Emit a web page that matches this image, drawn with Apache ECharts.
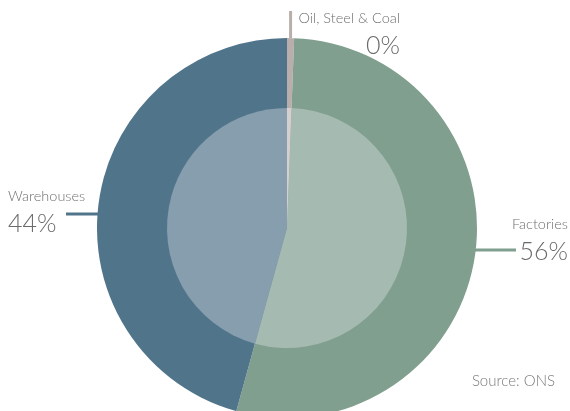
<!DOCTYPE html>
<html>
<head>
<meta charset="utf-8">
<script src="https://cdn.jsdelivr.net/npm/echarts@6/dist/echarts.min.js"></script>
<style>
  html, body { margin: 0; padding: 0; background: #ffffff; }
  #chart { width: 570px; height: 411px; }
</style>
</head>
<body>
<div id="chart"></div>
<script>
// ---- data ----
var categories = ['Oil, Steel & Coal', 'Factories', 'Warehouses'];
var shareValues = [0.6, 53.7, 45.7];          // slice sizes
var shareLabels = ['0%', '56%', '44%'];        // percentages as printed on the chart
var outerColors = ['#b9aeab', '#809f8f', '#50748a'];
var innerColors = ['#d6cfcd', '#a5bab1', '#869eae'];
var sourceText = 'Source: ONS';

var FONT = 'Lato, "Open Sans", sans-serif';
var chart = echarts.init(document.getElementById('chart'), null, { renderer: 'canvas' });

var labelAlign = ['right', 'right', 'left'];

function outerData() {
  return categories.map(function (c, i) {
    return {
      name: c,
      value: shareValues[i],
      itemStyle: { color: outerColors[i] },
      labelLine: { lineStyle: { color: outerColors[i], width: 3 } },
      label: {
        align: labelAlign[i],
        rich: {
          n: { fontSize: 14.5, color: '#6f6f6f', fontFamily: FONT, fontWeight: 300, lineHeight: 20, align: labelAlign[i] },
          p: { fontSize: 25, color: '#6a6a6a', fontFamily: FONT, fontWeight: 300, lineHeight: 36, align: labelAlign[i] }
        }
      }
    };
  });
}
function innerData() {
  return categories.map(function (c, i) {
    return { name: c, value: shareValues[i], itemStyle: { color: innerColors[i] } };
  });
}

var W = 570;
chart.setOption({
  animation: false,
  backgroundColor: '#ffffff',
  graphic: [{
    type: 'text', right: 15, top: 374,
    style: { text: sourceText, fontSize: 15, fill: '#7a7a7a', fontFamily: FONT, fontWeight: 300 }
  }],
  series: [
    {
      type: 'pie',
      center: [287, 228],
      radius: [0, 190],
      startAngle: 90,
      clockwise: true,
      silent: true,
      data: outerData(),
      label: {
        show: true,
        position: 'outside',
        overflow: 'none',
        formatter: function (p) { return '{n|' + p.name + '}\n{p|' + shareLabels[p.dataIndex] + '}'; }
      },
      labelLine: { show: true, length: 0, length2: 30, smooth: false },
      labelLayout: function (params) {
        var p0 = params.labelLinePoints ? params.labelLinePoints[0] : [0, 0];
        var i = params.dataIndex;
        if (i === 0) {
          return { x: 400, y: 8, align: 'right', verticalAlign: 'top',
                   labelLinePoints: [[p0[0], p0[1]], [p0[0], p0[1]], [p0[0], 11]] };
        } else if (i === 1) {
          return { x: W - 2, y: 214, align: 'right', verticalAlign: 'top',
                   labelLinePoints: [[p0[0], 250], [p0[0], 250], [516, 250]] };
        } else {
          return { x: 8, y: 186, align: 'left', verticalAlign: 'top',
                   labelLinePoints: [[98, 214], [98, 214], [66, 214]] };
        }
      },
      z: 1
    },
    {
      type: 'pie',
      center: [287, 228],
      radius: [0, 120],
      startAngle: 90,
      clockwise: true,
      silent: true,
      data: innerData(),
      label: { show: false },
      labelLine: { show: false },
      z: 2
    }
  ]
});
</script>
</body>
</html>
